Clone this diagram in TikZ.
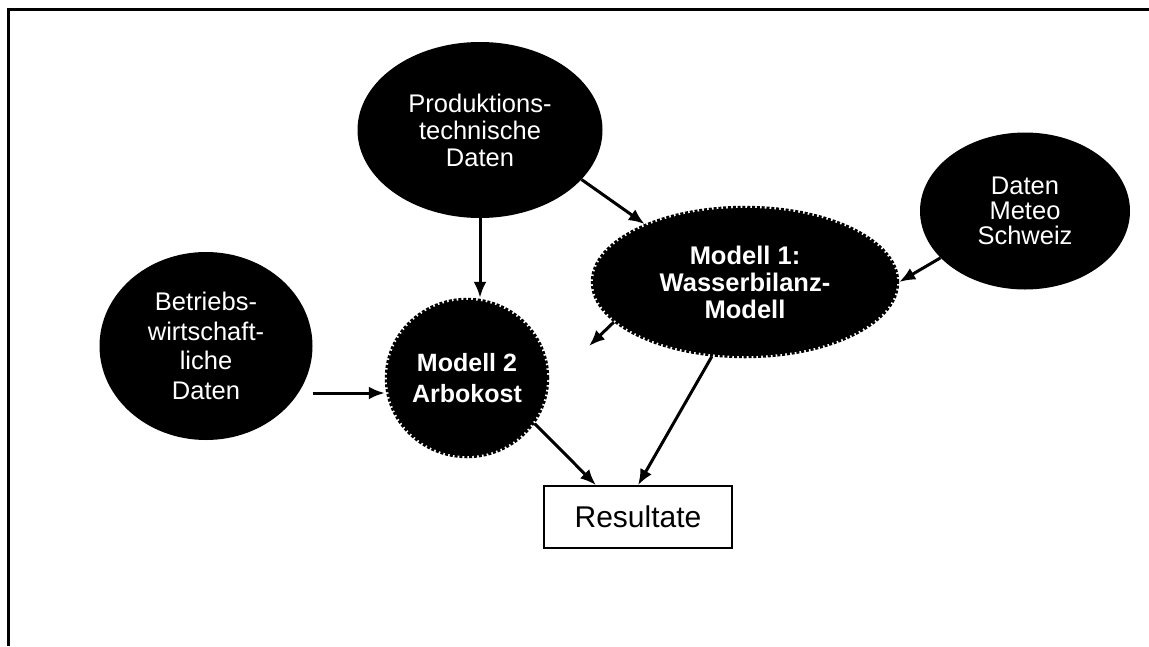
\documentclass[tikz,border=0pt]{standalone}
\usepackage{fontspec}
\setmainfont{Liberation Sans}
\usetikzlibrary{shapes.geometric,arrows.meta}
\begin{document}
\begin{tikzpicture}[x=1pt,y=-1pt,
  blob/.style={ellipse,fill=black,text=white,inner sep=0pt,align=center},
  model/.style={blob,draw=black,line width=4.5pt,dash pattern=on 3pt off 1.8pt},
  arr/.style={line width=3pt,-{Latex[length=16pt,width=13pt]}},
  resbox/.style={draw,line width=1.6pt,minimum width=188pt,minimum height=62pt,inner sep=0pt,font=\fontsize{30}{32}\selectfont}]
\useasboundingbox (0,0) rectangle (1149,646);
% frame
\draw[line width=3pt] (1149,9) -- (8,9) -- (8,646);
% nodes
\node[blob,minimum width=245pt,minimum height=176pt,font=\fontsize{25.5}{27}\selectfont] (prod) at (480,130) {Produktions-\\technische\\Daten};
\node[blob,minimum width=210pt,minimum height=157pt,font=\fontsize{25.5}{25}\selectfont] (met) at (1025,211) {Daten\\Meteo\\Schweiz};
\node[blob,minimum width=213pt,minimum height=188pt,font=\fontsize{25.5}{29.5}\selectfont] (bet) at (206,346) {Betriebs-\\wirtschaft-\\liche\\Daten};
\node[model,minimum width=160pt,minimum height=156pt,font=\bfseries\fontsize{25}{31}\selectfont] (m2) at (467,378) {Modell 2\\Arbokost};
\node[model,minimum width=304pt,minimum height=148pt,font=\bfseries\fontsize{25.5}{27}\selectfont] (m1) at (745,282) {Modell 1:\\Wasserbilanz-\\Modell};
\node[resbox] (res) at (638,517) {Resultate};
% helper coordinates
\coordinate (rowb) at (0,393);
\coordinate (m1m2) at (589,346);
% connectors
\draw[arr] (prod.-26) -- (m1.150);
\draw[arr] (prod.south) -- (prod.south |- m2.north);
\draw[arr] (met.209) -- (m1.east);
\draw[arr] (m1.197) -- (m1m2);
\draw[arr] (bet.east |- rowb) -- (m2.west |- rowb);
\draw[arr] (m2.-34) -- ([xshift=-42pt]res.north);
\draw[arr] (m1.246) -- (res.north);
\end{tikzpicture}
\end{document}
